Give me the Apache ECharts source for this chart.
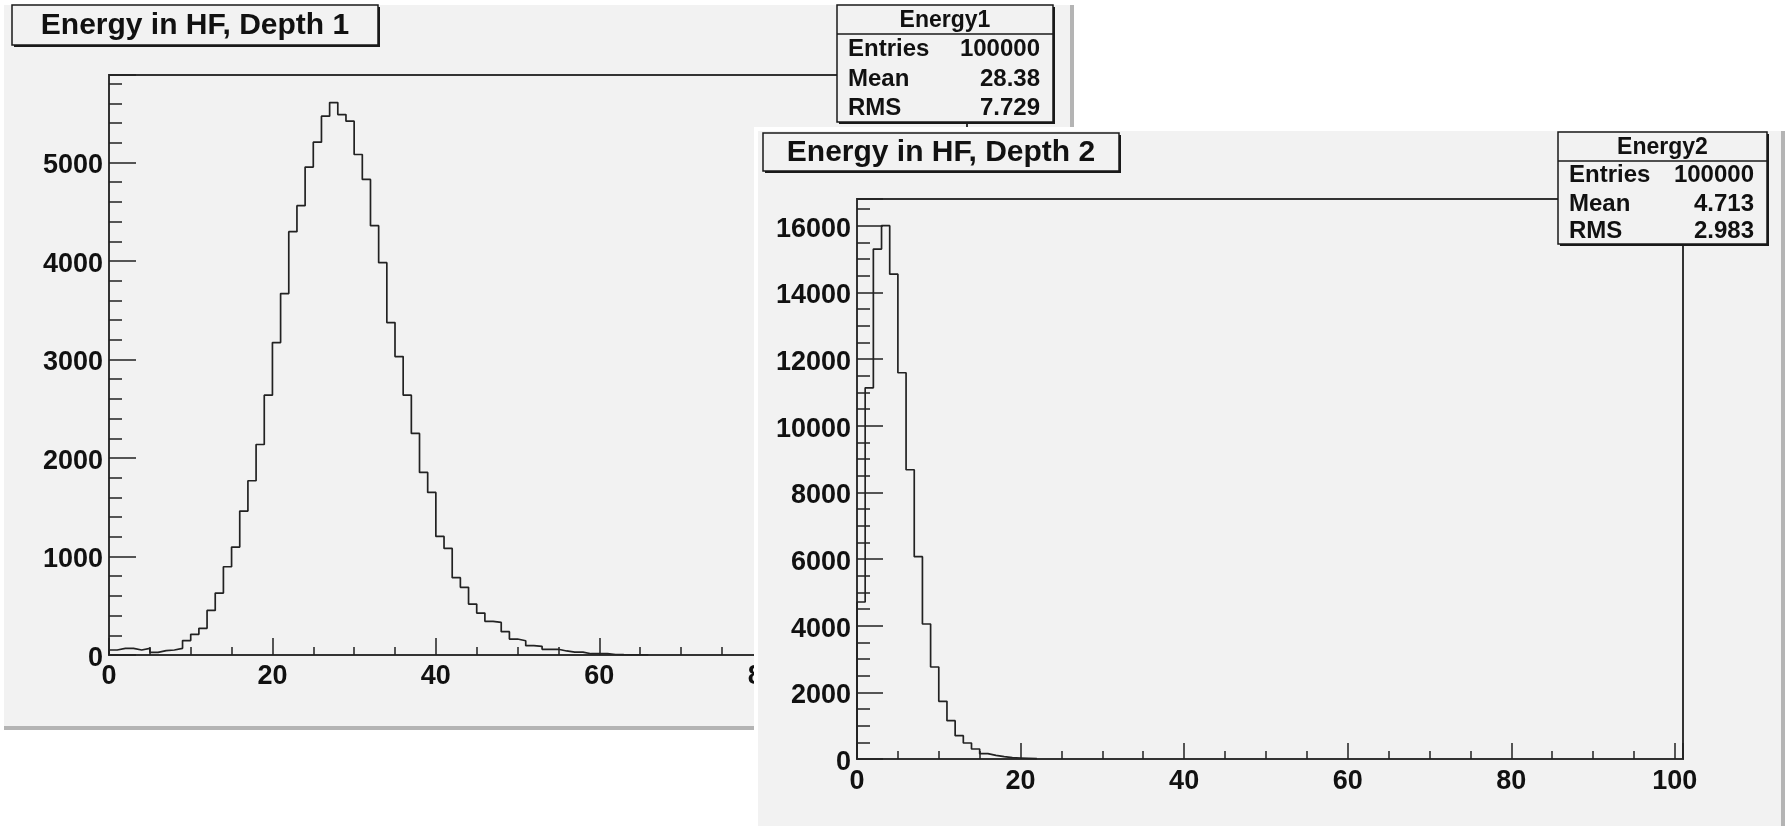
<!DOCTYPE html>
<html>
<head>
<meta charset="utf-8">
<title>Energy in HF</title>
<script src="https://cdn.jsdelivr.net/npm/echarts@6/dist/echarts.min.js"></script>
<style>
  html, body { margin: 0; padding: 0; background: #fff; }
  #container { width: 1785px; height: 826px; }
</style>
</head>
<body>
<div id="container"></div>
<script>
// bin contents, bin width 1, first bin starts at 0
var depth1Counts = [51, 68, 68, 51, 68, 27, 44, 51, 68, 146, 210, 271, 453, 629, 896, 1096,
    1461, 1769, 2137, 2638, 3172, 3669, 4297, 4561, 4953, 5206, 5470, 5608, 5486, 5419,
    5081, 4828, 4358, 3983, 3375, 3030, 2638, 2249, 1853, 1650, 1204, 1082, 785, 687,
    517, 426, 342, 331, 237, 162, 145, 95, 88, 58, 58, 41, 30, 30, 13, 13, 13, 5, 3, 2, 1, 1];
var depth2Counts = [4710, 11135, 15298, 16000, 14546, 11587, 8678, 6070, 4050, 2760, 1730,
    1150, 700, 480, 300, 160, 110, 70, 40, 30, 20, 10];

var titles = ['Energy in HF, Depth 1', 'Energy in HF, Depth 2'];
var statNames = ['Energy1', 'Energy2'];
var statLabels = ['Entries', 'Mean', 'RMS'];
var statValues1 = ['100000', '28.38', '7.729'];
var statValues2 = ['100000', '4.713', '2.983'];

var PAD = '#f2f2f2';
var INK = '#1a1a1a';
var LABEL_FONT = '"Liberation Sans", Arial, sans-serif';

function stepData(counts) {
    var pts = [[0, 0]];
    for (var i = 0; i < counts.length; i++) {
        pts.push([i, counts[i]]);
    }
    pts.push([counts.length, counts[counts.length - 1]]);
    pts.push([counts.length, 0]);
    return pts;
}

// two axes per dimension: one for major ticks + labels, one for the minor ticks
function axisPair(dim, gridIndex, max, major, minor, tickLen, minorLen, margin, zlevel) {
    var pos = dim === 'x' ? 'bottom' : 'left';
    var label = {
        margin: margin, color: '#111', fontFamily: LABEL_FONT, fontWeight: 'bold', fontSize: 27,
        formatter: function (v) { return v % major === 0 ? String(v) : ''; }
    };
    if (dim === 'y') {
        // ROOT puts the y labels a few pixels below the tick
        label.verticalAlign = 'top';
        label.lineHeight = 7;
    }
    var majorAxis = {
        type: 'value', gridIndex: gridIndex, position: pos, min: 0, max: max, interval: major,
        zlevel: zlevel, z: 3,
        axisLine: { show: true, onZero: false, lineStyle: { color: '#333', width: 2 } },
        axisTick: { show: true, inside: true, length: tickLen, lineStyle: { color: '#222', width: 1.5 } },
        axisLabel: label,
        splitLine: { show: false }
    };
    var minorAxis = {
        type: 'value', gridIndex: gridIndex, position: pos, min: 0, max: max, interval: minor,
        zlevel: zlevel, z: 3,
        axisLine: { show: false, onZero: false },
        axisTick: { show: true, inside: true, length: minorLen, lineStyle: { color: '#222', width: 1.5 } },
        axisLabel: { show: false },
        splitLine: { show: false }
    };
    return [majorAxis, minorAxis];
}

function titleBox(x, y, w, h, text, zlevel) {
    return [
        { type: 'rect', zlevel: zlevel, z: 100, shape: { x: x + 2, y: y + 2, width: w, height: h },
          style: { fill: INK } },
        { type: 'rect', zlevel: zlevel, z: 101, shape: { x: x, y: y, width: w, height: h },
          style: { fill: PAD, stroke: INK, lineWidth: 1.5 } },
        { type: 'text', zlevel: zlevel, z: 102, x: x + w / 2, y: y + h / 2 + 1,
          style: { text: text, font: 'bold 30px ' + LABEL_FONT, fill: '#111',
                   align: 'center', verticalAlign: 'middle' } }
    ];
}

function statBox(x, y, w, h, headH, name, values, rowYs, zlevel) {
    var els = [
        { type: 'rect', zlevel: zlevel, z: 100, shape: { x: x + 2, y: y + 2, width: w, height: h },
          style: { fill: INK } },
        { type: 'rect', zlevel: zlevel, z: 101, shape: { x: x, y: y, width: w, height: h },
          style: { fill: PAD, stroke: INK, lineWidth: 1.5 } },
        { type: 'line', zlevel: zlevel, z: 102, shape: { x1: x, y1: y + headH, x2: x + w, y2: y + headH },
          style: { stroke: INK, lineWidth: 1.5 } },
        { type: 'text', zlevel: zlevel, z: 102, x: x + w / 2, y: y + headH / 2 + 1,
          style: { text: name, font: 'bold 23px ' + LABEL_FONT, fill: '#111',
                   align: 'center', verticalAlign: 'middle' } }
    ];
    for (var i = 0; i < statLabels.length; i++) {
        els.push({ type: 'text', zlevel: zlevel, z: 102, x: x + 11, y: rowYs[i],
            style: { text: statLabels[i], font: 'bold 24px ' + LABEL_FONT, fill: '#111',
                     align: 'left', verticalAlign: 'middle' } });
        els.push({ type: 'text', zlevel: zlevel, z: 102, x: x + w - 13, y: rowYs[i],
            style: { text: values[i], font: 'bold 24px ' + LABEL_FONT, fill: '#111',
                     align: 'right', verticalAlign: 'middle' } });
    }
    return els;
}

var x1 = axisPair('x', 0, 105, 20, 5, 17, 8, 8, 0);
var y1 = axisPair('y', 0, 5888, 1000, 200, 27, 13, 6, 0);
var x2 = axisPair('x', 1, 101, 20, 5, 16, 8, 9, 1);
var y2 = axisPair('y', 1, 16800, 2000, 500, 26, 13, 6, 1);

var graphics = []
    // pad 1
    .concat([
        { type: 'rect', zlevel: 0, z: -10, shape: { x: 4, y: 5, width: 1070, height: 725 },
          style: { fill: '#b4b4b4' } },
        { type: 'rect', zlevel: 0, z: -9, shape: { x: 4, y: 5, width: 1066, height: 721 },
          style: { fill: PAD } }
    ])
    .concat(titleBox(12, 5, 366, 40, titles[0], 0))
    .concat(statBox(837, 5, 216, 117, 29, statNames[0], statValues1, [49, 79, 108], 0))
    // pad 2
    .concat([
        { type: 'rect', zlevel: 1, z: -11, shape: { x: 754, y: 127, width: 1031, height: 699 },
          style: { fill: '#ffffff' } },
        { type: 'rect', zlevel: 1, z: -10, shape: { x: 758, y: 131, width: 1027, height: 695 },
          style: { fill: '#b4b4b4' } },
        { type: 'rect', zlevel: 1, z: -9, shape: { x: 758, y: 131, width: 1023, height: 695 },
          style: { fill: PAD } }
    ])
    .concat(titleBox(763, 133, 356, 38, titles[1], 1))
    .concat(statBox(1558, 132, 209, 112, 29, statNames[1], statValues2, [175, 204, 231], 1));

var myChart = echarts.init(document.getElementById('container'), null, { renderer: 'canvas' });
var option = {
    animation: false,
    backgroundColor: '#ffffff',
    grid: [
        { left: 109, top: 75, width: 858, height: 580, show: true, borderColor: '#333', borderWidth: 2,
          backgroundColor: 'transparent', zlevel: 0, z: 1 },
        { left: 857, top: 199, width: 826, height: 560, show: true, borderColor: '#333', borderWidth: 2,
          backgroundColor: 'transparent', zlevel: 1, z: 1 }
    ],
    xAxis: [x1[0], x1[1], x2[0], x2[1]],
    yAxis: [y1[0], y1[1], y2[0], y2[1]],
    series: [
        {
            name: 'Energy1', type: 'line', step: 'end', xAxisIndex: 0, yAxisIndex: 0,
            data: stepData(depth1Counts), showSymbol: false, zlevel: 0, z: 4,
            lineStyle: { color: '#222', width: 1.7 }
        },
        {
            name: 'Energy2', type: 'line', step: 'end', xAxisIndex: 2, yAxisIndex: 2,
            data: stepData(depth2Counts), showSymbol: false, zlevel: 1, z: 4,
            lineStyle: { color: '#222', width: 1.7 }
        }
    ],
    graphic: graphics
};
myChart.setOption(option);
</script>
</body>
</html>
